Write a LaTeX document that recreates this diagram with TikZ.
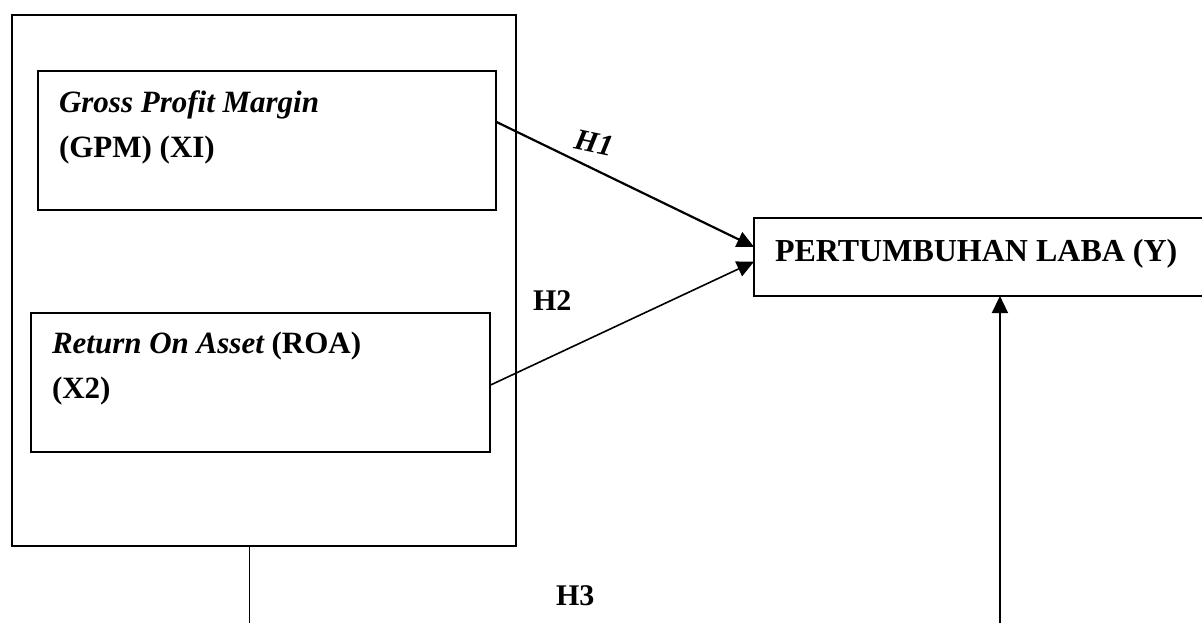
\documentclass[tikz,border=0pt]{standalone}
\usepackage{fontspec}
\setmainfont{Liberation Serif}
\usetikzlibrary{arrows.meta,calc}
\begin{document}
\begin{tikzpicture}[x=1bp,y=-1bp,
  box/.style={draw,line width=1.6bp,inner sep=0pt,outer sep=0pt,anchor=north west},
  lbl/.style={inner sep=0pt,outer sep=0pt,anchor=base west,align=left,font=\fontsize{31bp}{45bp}\selectfont},
  arr/.style={line width=1.6bp,-{Triangle[length=17bp,width=16bp]}}]
\useasboundingbox (0,0) rectangle (1202,623);
% boxes
\node[box,minimum width=504bp,minimum height=531bp] (outer) at (12,15) {};
\node[box,minimum width=458bp,minimum height=139bp] (gpm) at (38,71) {};
\node[box,minimum width=459bp,minimum height=139bp] (roa) at (31,313) {};
\node[box,minimum width=458bp,minimum height=78bp] (ybox) at (754,218) {};
% texts (base = last line)
\node[lbl] (gpmtext) at (59,158) {\bfseries\itshape Gross Profit Margin\\\bfseries (GPM) (XI)};
\node[lbl] (roatext) at (52,398) {{\bfseries\itshape Return On Asset} \bfseries(ROA)\\\bfseries (X2)};
\node[lbl,font=\fontsize{32bp}{40bp}\selectfont\bfseries] (ytext) at (775,262) {PERTUMBUHAN LABA (Y)};
\node[inner sep=0pt,text depth=0pt,text height=20bp,rotate=-12,font=\fontsize{30bp}{36bp}\selectfont\bfseries\itshape] (h1) at (594,143) {H1};
\node[lbl,font=\fontsize{30bp}{36bp}\selectfont\bfseries] (h2) at (533,311) {H2};
\node[lbl,font=\fontsize{30bp}{36bp}\selectfont\bfseries] (h3) at (556,605) {H3};
% connectors
\draw[arr,line width=2.2bp] ($(gpm.north east)!0.365!(gpm.south east)$) -- ($(ybox.north west)!0.37!(ybox.south west)$);
\draw[arr] ($(roa.north east)!0.52!(roa.south east)$) -- ($(ybox.north west)!0.56!(ybox.south west)$);
\draw[arr] ($(outer.south west)!0.471!(outer.south east)$) -- ++(0,77.5) -| ($(ybox.south west)!0.537!(ybox.south east)$);
\end{tikzpicture}
\end{document}
